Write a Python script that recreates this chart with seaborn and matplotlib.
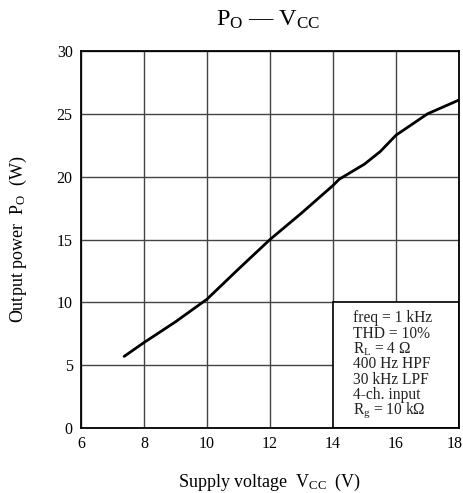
import matplotlib
matplotlib.use("Agg")
import matplotlib.pyplot as plt
import matplotlib.transforms as mtransforms
import seaborn as sns
import pandas as pd
from matplotlib.patches import Rectangle

# Data
vcc = [7.37, 8.0, 9.0, 10.0, 11.0, 12.0, 13.0, 14.0, 14.2, 15.0, 15.5, 16.0, 17.0, 18.0]
po = [5.7, 6.8, 8.45, 10.25, 12.65, 15.0, 17.1, 19.3, 19.8, 21.0, 22.0, 23.3, 25.0, 26.1]
x_ticks = [6, 8, 10, 12, 14, 16, 18]
y_ticks = [0, 5, 10, 15, 20, 25, 30]
conditions = ["freq = 1 kHz", "THD = 10%", r"R$_\mathrm{L}$ = 4 Ω", "400 Hz HPF",
              "30 kHz LPF", "4-ch. input", r"R$_\mathrm{g}$ = 10 kΩ"]

sns.set_theme(style="white")
plt.rcParams['font.family'] = ['Liberation Serif', 'DejaVu Serif']
plt.rcParams['mathtext.fontset'] = 'custom'
plt.rcParams['mathtext.rm'] = 'Liberation Serif'
plt.rcParams['mathtext.it'] = 'Liberation Serif'

df = pd.DataFrame({"Vcc": vcc, "Po": po})

fig = plt.figure(figsize=(4.63, 4.93), dpi=100)
ax = fig.add_axes([81/463, 1-428/493, 378/463, 377/493])

ax.set_xlim(6, 18)
ax.set_ylim(0, 30)
ax.set_xticks(x_ticks)
ax.set_yticks(y_ticks)
ax.grid(True, color="#444444", linewidth=1.0)
ax.set_axisbelow(True)
for s in ax.spines.values():
    s.set_color("black")
    s.set_linewidth(1.3)
ax.tick_params(length=0, labelsize=11.5, colors="black", pad=6)

# nudge the last x tick label so it stays inside the figure
last = ax.get_xticklabels()[-1]
last.set_transform(last.get_transform() +
                   mtransforms.ScaledTranslation(-4/100, 0, fig.dpi_scale_trans))

# Condition box
ax.add_patch(Rectangle((14, 0), 4, 10, facecolor="white", edgecolor="black",
                       linewidth=1.2, zorder=2))

sns.lineplot(data=df, x="Vcc", y="Po", color="black", linewidth=2.0, ax=ax, zorder=3)

ax.set_xlabel(r"Supply voltage  V$_\mathrm{CC}$  (V)", fontsize=13, color="black", labelpad=14)
ax.set_ylabel(r"Output power  P$_\mathrm{O}$  (W)", fontsize=13, color="black", labelpad=20)

for i, line in enumerate(conditions):
    ax.text(14.62, 8.72 - i * 1.22, line, fontsize=11.2, color="#222222",
            va="center", ha="left", zorder=4)

fig.text(268/463, 1-20/493, r"P$_\mathrm{O}$ — V$_\mathrm{CC}$", fontsize=17.5,
         ha="center", va="center", color="black")

fig.savefig("out.png", dpi=100)
